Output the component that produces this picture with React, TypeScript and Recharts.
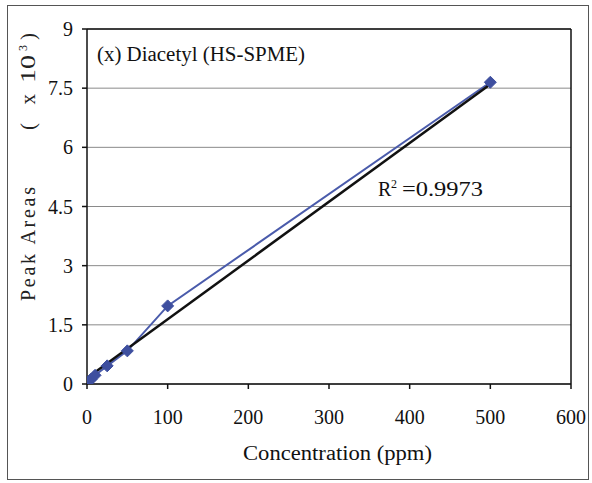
import React from "react";
import {
  ComposedChart,
  Line,
  XAxis,
  YAxis,
  CartesianGrid,
  ReferenceLine,
  Customized,
} from "recharts";

const concentration = [0, 1, 5, 10, 25, 50, 100, 500];
const peakArea = [0, 0.04, 0.12, 0.22, 0.46, 0.84, 1.98, 7.65];
const trendX = [0, 500];
const trendY = [0.15, 7.6];
const xTicks = [0, 100, 200, 300, 400, 500, 600];
const yTicks = [0, 1.5, 3, 4.5, 6, 7.5, 9];
const yTickLabels = ["0", "1.5", "3", "4.5", "6", "7.5", "9"];
const titleText = "(x) Diacetyl (HS-SPME)";
const r2Value = "=0.9973";
const xLabel = "Concentration (ppm)";
const yLabelMain = "Peak Areas";
const yLabelOpen = "(x";
const yLabelBase = "10";
const yLabelExp = "3";
const yLabelClose = ")";

const dataPoints = concentration.map((x, i) => ({ x, y: peakArea[i] }));
const trendPoints = trendX.map((x, i) => ({ x, y: trendY[i] }));

const FONT = "'Liberation Serif', 'Times New Roman', serif";
const BLUE = "#3e4f9f";

const Diamond = (props: any) => {
  const { cx, cy } = props;
  if (cx == null || cy == null) return null;
  const s = 6;
  return (
    <polygon
      points={`${cx},${cy - s} ${cx + s},${cy} ${cx},${cy + s} ${cx - s},${cy}`}
      fill={BLUE}
      stroke={BLUE}
      strokeWidth={1}
    />
  );
};

const Rot = ({ x, y, children, ...rest }: any) => (
  <text x={x} y={y} transform={`rotate(-90, ${x}, ${y})`} {...rest}>
    {children}
  </text>
);

const YLabel = () => (
  <g fontFamily={FONT} fill="#222">
    <Rot x={35} y={301} fontSize={20} textLength={114} lengthAdjust="spacing">
      {yLabelMain}
    </Rot>
    <Rot x={35} y={130} fontSize={21} textLength={36} lengthAdjust="spacing">
      {yLabelOpen}
    </Rot>
    <Rot x={35} y={83} fontSize={21} textLength={28} lengthAdjust="spacingAndGlyphs">
      {yLabelBase}
    </Rot>
    <Rot x={27} y={51} fontSize={12}>
      {yLabelExp}
    </Rot>
    <Rot x={35} y={40} fontSize={21}>
      {yLabelClose}
    </Rot>
  </g>
);

const Overlay = () => (
  <g fontFamily={FONT} fill="#111">
    <YLabel />
    <text x={97} y={61} fontSize={20} textLength={208} lengthAdjust="spacingAndGlyphs">
      {titleText}
    </text>
    <text x={378} y={196} fontSize={20}>R</text>
    <text x={391} y={188} fontSize={12}>2</text>
    <text x={402} y={196} fontSize={20} textLength={81} lengthAdjust="spacingAndGlyphs">
      {r2Value}
    </text>
    <text x={243} y={460} fontSize={20} textLength={189} lengthAdjust="spacingAndGlyphs">
      {xLabel}
    </text>
  </g>
);

export default function App() {
  return (
    <div style={{ position: "absolute", left: 0, top: 0, width: 592, height: 483, background: "#fff" }}>
      <div
        style={{
          position: "absolute",
          left: 7,
          top: 5,
          width: 582,
          height: 475,
          border: "1.5px solid #555",
          boxSizing: "border-box",
        }}
      />
      <div style={{ position: "absolute", left: 0, top: 0 }}>
        <ComposedChart
          width={592}
          height={483}
          margin={{ top: 29, right: 21, bottom: 69, left: 0 }}
        >
          <CartesianGrid horizontal vertical={false} stroke="#8a8a8a" strokeWidth={1} />
          <XAxis
            type="number"
            dataKey="x"
            domain={[0, 600]}
            ticks={xTicks}
            tickSize={5}
            tickMargin={21}
            height={30}
            stroke="#111"
            strokeWidth={1.5}
            tick={{ fontFamily: FONT, fontSize: 20, fill: "#111" }}
            allowDataOverflow
          />
          <YAxis
            type="number"
            dataKey="y"
            domain={[0, 9]}
            ticks={yTicks}
            tickFormatter={(v: number) => yTickLabels[yTicks.indexOf(v)] ?? String(v)}
            width={87}
            tickSize={5}
            tickMargin={9}
            stroke="#111"
            strokeWidth={1.5}
            tick={{ fontFamily: FONT, fontSize: 20, fill: "#111" }}
            allowDataOverflow
          />
          <ReferenceLine y={9} stroke="#111" strokeWidth={1.5} />
          <ReferenceLine x={600} stroke="#111" strokeWidth={1.5} />
          <Line
            data={dataPoints}
            dataKey="y"
            type="linear"
            stroke="#4a5bab"
            strokeWidth={2}
            dot={<Diamond />}
            activeDot={false}
            isAnimationActive={false}
          />
          <Line
            data={trendPoints}
            dataKey="y"
            type="linear"
            stroke="#111"
            strokeWidth={2.5}
            dot={false}
            activeDot={false}
            isAnimationActive={false}
          />
          <Customized component={Overlay} />
        </ComposedChart>
      </div>
    </div>
  );
}
